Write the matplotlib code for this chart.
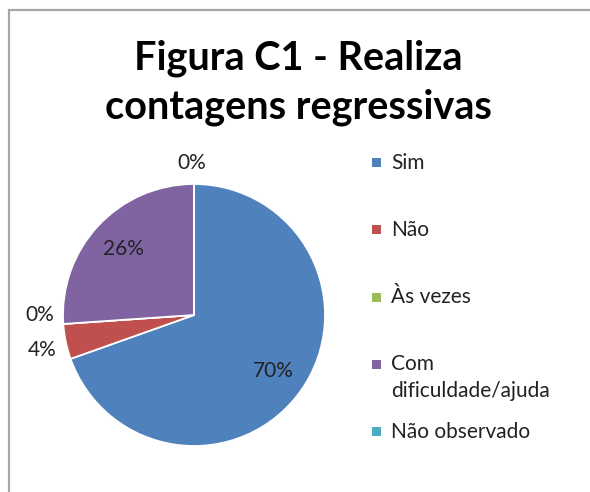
import numpy as np
import matplotlib.pyplot as plt
from matplotlib.patches import Rectangle

# data
categories = ["Sim", "Não", "Às vezes", "Com\ndificuldade/ajuda", "Não observado"]
counts = [16, 1, 0, 6, 0]
colors = ["#4F81BD", "#C0504D", "#9BBB59", "#8064A2", "#4BACC6"]

plt.rcParams['font.family'] = ['Lato', 'DejaVu Sans']

def main():
    fig = plt.figure(figsize=(5.90, 4.92), dpi=100)

    # grey frame (open at right and bottom, as in the crop)
    fig.patches.append(Rectangle((9 / 590, -0.1), 1.2, 1 - 10 / 492 + 0.1,
                                 transform=fig.transFigure, fill=False,
                                 edgecolor="#A6A6A6", linewidth=1.6))

    fig.text(0.505, 0.832, "Figura C1 - Realiza\ncontagens regressivas",
             ha="center", va="center", fontsize=28.5, fontweight="bold",
             linespacing=1.38)

    # pie axes (pie keeps a 1.25 margin around the unit circle)
    w = 262 * 1.25 / 590
    h = 262 * 1.25 / 492
    ax = fig.add_axes([194 / 590 - w / 2, 1 - 315 / 492 - h / 2, w, h])
    total = sum(counts)
    wedges, texts, autotexts = ax.pie(
        counts, colors=colors, startangle=90, counterclock=False,
        autopct=lambda p: f"{p:.0f}%", pctdistance=0.74,
        wedgeprops=dict(edgecolor="white", linewidth=1.3),
        textprops=dict(fontsize=15, color="#222222"))
    ax.set_aspect("equal")

    # small slices get their labels outside
    for wd, t, c in zip(wedges, autotexts, counts):
        if c / total < 0.1:
            mid = np.deg2rad((wd.theta1 + wd.theta2) / 2)
            r = 1.16
            t.set_position((r * np.cos(mid) - 0.02, r * np.sin(mid)))
    # the two adjacent labels at the left overlap; nudge them apart
    x, y = autotexts[2].get_position()
    autotexts[2].set_position((x, y + 0.08))
    x, y = autotexts[1].get_position()
    autotexts[1].set_position((x, y - 0.03))

    # legend drawn by hand to mimic the spacing
    leg_y = [0.669, 0.533, 0.396, 0.258, 0.122]
    for lab, col, yy in zip(categories, colors, leg_y):
        fig.patches.append(Rectangle((372 / 590, yy - 0.009), 0.0153, 0.0183,
                                     transform=fig.transFigure,
                                     facecolor=col, edgecolor="none"))
        ty = yy - 12.5 / 492 if "\n" in lab else yy
        fig.text(391 / 590, ty, lab, ha="left", va="center",
                 fontsize=15, color="#222222", linespacing=1.45,
                 transform=fig.transFigure)

    fig.savefig("out.png", dpi=100)

if __name__ == "__main__":
    main()
